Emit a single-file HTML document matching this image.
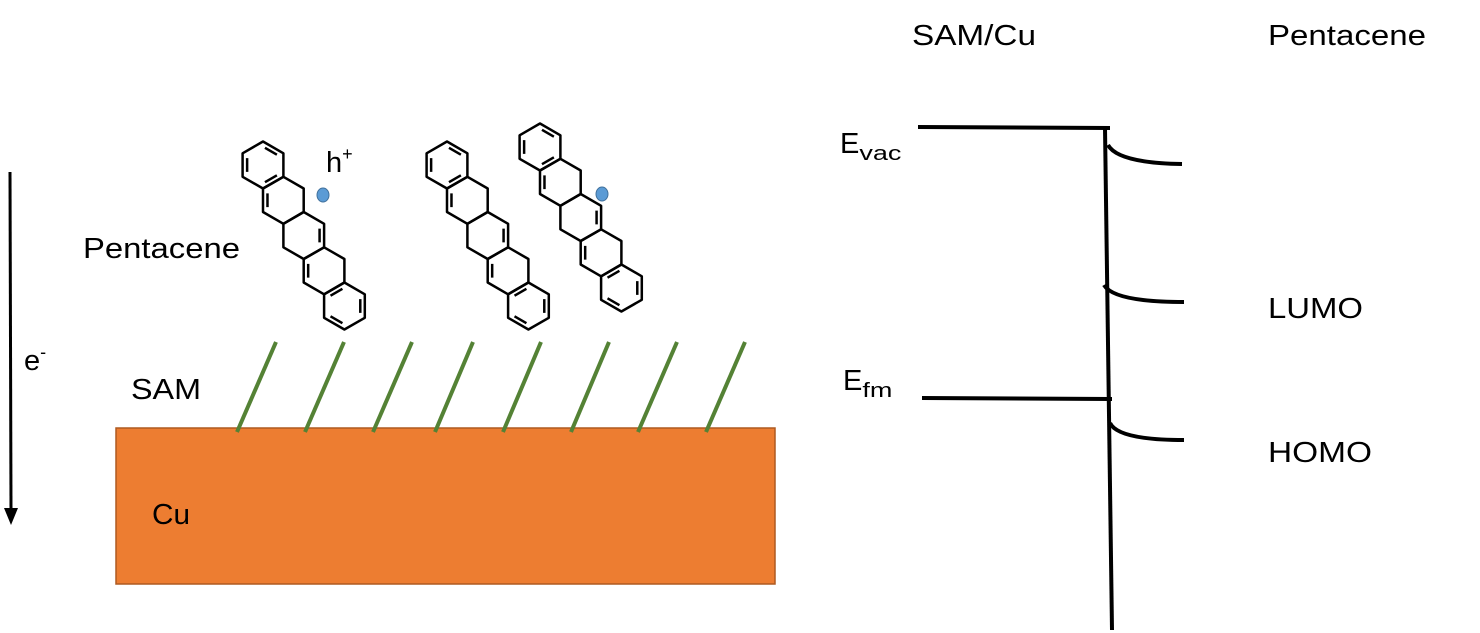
<!DOCTYPE html>
<html><head><meta charset="utf-8">
<style>
html,body{margin:0;padding:0;background:#fff;}
svg{display:block;}
text{font-family:"Liberation Sans",sans-serif;fill:#000;}
</style></head>
<body>
<svg id="s" width="1480" height="633" viewBox="0 0 1480 633" xmlns="http://www.w3.org/2000/svg">
<rect x="116" y="428" width="659" height="156" fill="#ED7D31" stroke="#AE5A21" stroke-width="1.5"/>
<g stroke="#548235" stroke-width="4" stroke-linecap="butt">
<line x1="237" y1="432" x2="276" y2="342"/>
<line x1="305" y1="432" x2="344" y2="342"/>
<line x1="373" y1="432" x2="412" y2="342"/>
<line x1="435" y1="432" x2="473" y2="342"/>
<line x1="503" y1="432" x2="541" y2="342"/>
<line x1="571" y1="432" x2="609" y2="342"/>
<line x1="638" y1="432" x2="677" y2="342"/>
<line x1="706" y1="432" x2="745" y2="342"/>
</g>
<line x1="10" y1="172" x2="11" y2="510" stroke="#000" stroke-width="3"/>
<polygon points="4,508 18,508 11,525" fill="#000"/>
<g id="mol" fill="none" stroke="#000" stroke-width="2.5" stroke-linejoin="round"></g>
<ellipse cx="323" cy="195" rx="6" ry="7" fill="#5B9BD5" stroke="#41719C" stroke-width="1"/>
<ellipse cx="602" cy="194" rx="6" ry="7" fill="#5B9BD5" stroke="#41719C" stroke-width="1"/>
<text x="83" y="258" font-size="29" textLength="157" lengthAdjust="spacingAndGlyphs">Pentacene</text>
<text x="326" y="172" font-size="29">h<tspan font-size="18" dy="-12">+</tspan></text>
<text x="24" y="370" font-size="29">e<tspan font-size="18" dy="-12">-</tspan></text>
<text x="131" y="399" font-size="29" textLength="70" lengthAdjust="spacingAndGlyphs">SAM</text>
<text x="152" y="524" font-size="29" textLength="38" lengthAdjust="spacingAndGlyphs">Cu</text>
<text x="912" y="45" font-size="29" textLength="124" lengthAdjust="spacingAndGlyphs">SAM/Cu</text>
<text x="1268" y="45" font-size="29" textLength="158" lengthAdjust="spacingAndGlyphs">Pentacene</text>
<text x="840" y="153" font-size="29">E<tspan font-size="20" dy="7" textLength="42" lengthAdjust="spacingAndGlyphs">vac</tspan></text>
<text x="843" y="390" font-size="29">E<tspan font-size="20" dy="7" textLength="30" lengthAdjust="spacingAndGlyphs">fm</tspan></text>
<text x="1268" y="318" font-size="29" textLength="95" lengthAdjust="spacingAndGlyphs">LUMO</text>
<text x="1268" y="462" font-size="29" textLength="104" lengthAdjust="spacingAndGlyphs">HOMO</text>
<g stroke="#000" stroke-width="4" fill="none">
<line x1="918" y1="127" x2="1110" y2="128"/>
<line x1="922" y1="398" x2="1112" y2="399"/>
<line x1="1105" y1="128" x2="1112" y2="630"/>
<path d="M1108,145 Q1118,163 1182,164"/>
<path d="M1104,285 Q1114,302 1184,302"/>
<path d="M1110,423 Q1118,440 1184,440"/>
</g>
</svg>
<script>
(function(){
var g=document.getElementById('mol');var r=23.5,ns='http://www.w3.org/2000/svg';
var starts=[[263,165],[447,165],[540,147]];
var dx=r*Math.sqrt(3)*0.5, dy=r*1.5;
function pt(cx,cy,k,s){var a=(-90+60*k)*Math.PI/180;return [cx+s*r*Math.cos(a),cy+s*r*Math.sin(a)];}
starts.forEach(function(st){
 for(var i=0;i<5;i++){
  var cx=st[0]+dx*i, cy=st[1]+dy*i, p=[];
  for(var k=0;k<6;k++){var q=pt(cx,cy,k,1);p.push(q[0].toFixed(1)+','+q[1].toFixed(1));}
  var poly=document.createElementNS(ns,'polygon');poly.setAttribute('points',p.join(' '));g.appendChild(poly);
  var edges = (i==0)?[0,2,4]:(i==4)?[1,3,5]:[(i%2)?4:1];
  edges.forEach(function(k){
   var a=pt(cx,cy,k,0.78),b=pt(cx,cy,k+1,0.78);
   var mx=(a[0]+b[0])/2,my=(a[1]+b[1])/2;
   var ax=mx+(a[0]-mx)*0.75,ay=my+(a[1]-my)*0.75,bx=mx+(b[0]-mx)*0.75,by=my+(b[1]-my)*0.75;
   var l=document.createElementNS(ns,'line');l.setAttribute('x1',ax);l.setAttribute('y1',ay);l.setAttribute('x2',bx);l.setAttribute('y2',by);g.appendChild(l);
  });
 }
});
})();
</script>
</body></html>
